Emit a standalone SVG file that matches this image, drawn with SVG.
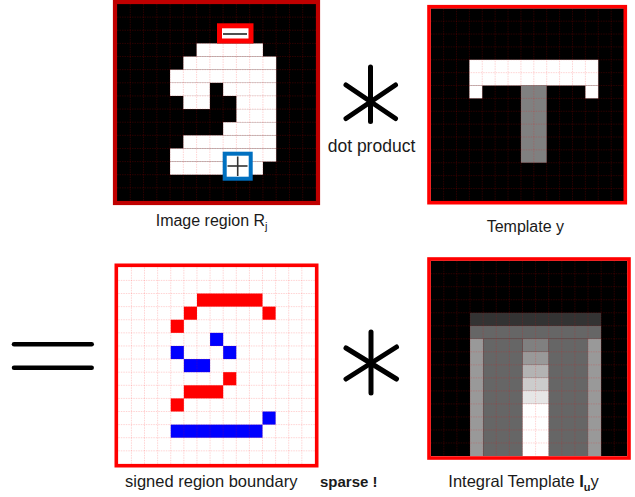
<svg xmlns="http://www.w3.org/2000/svg" width="635" height="497" viewBox="0 0 635 497">
<style>
.grid{fill:none;stroke:#ff0000;stroke-opacity:0.22;stroke-width:0.8;stroke-dasharray:1.5 1}
.frame{fill:none;stroke:#ff0000;stroke-width:3.6}
.lbl{font-family:"Liberation Sans",Arial,sans-serif;font-size:16px;fill:#1a1a1a}
.op{stroke:#000;stroke-linecap:round;fill:none}
.wh{fill:#ffffff}
.rd{fill:#ff0000}
.bl{fill:#0000ff}
</style>
<rect width="635" height="497" fill="#ffffff"/>

<g id="image-region">
<rect x="117" y="4" width="199" height="197" fill="#000"/>
<g class="wh">
<rect x="196.6" y="43.4" width="66.33" height="13.13"/>
<rect x="183.33" y="56.53" width="92.87" height="13.14"/>
<rect x="170.07" y="69.67" width="106.13" height="13.13"/>
<rect x="170.07" y="82.8" width="39.8" height="13.13"/>
<rect x="223.13" y="82.8" width="53.07" height="13.13"/>
<rect x="183.33" y="95.93" width="26.54" height="13.14"/>
<rect x="236.4" y="95.93" width="39.8" height="13.14"/>
<rect x="236.4" y="109.07" width="39.8" height="13.13"/>
<rect x="223.13" y="122.2" width="53.07" height="13.13"/>
<rect x="183.33" y="135.33" width="92.87" height="13.14"/>
<rect x="170.07" y="148.47" width="106.13" height="13.13"/>
<rect x="170.07" y="161.6" width="92.86" height="13.13"/>
</g>
<path class="grid" d="M130.27 4V201M143.53 4V201M156.8 4V201M170.07 4V201M183.33 4V201M196.6 4V201M209.87 4V201M223.13 4V201M236.4 4V201M249.67 4V201M262.93 4V201M276.2 4V201M289.47 4V201M302.73 4V201M117 17.13H316M117 30.27H316M117 43.4H316M117 56.53H316M117 69.67H316M117 82.8H316M117 95.93H316M117 109.07H316M117 122.2H316M117 135.33H316M117 148.47H316M117 161.6H316M117 174.73H316M117 187.87H316"/>
<rect x="115" y="2" width="203" height="201" fill="none" stroke="#c00000" stroke-width="4.2"/>
<rect x="219.5" y="25.8" width="31.5" height="15.2" fill="#fff" stroke="#ff0000" stroke-width="5"/>
<line x1="223" y1="34" x2="247" y2="34" stroke="#222" stroke-width="1.6"/>
<rect x="224.7" y="153.7" width="26" height="25" fill="#fff" stroke="#0070c0" stroke-width="4"/>
<line x1="237.7" y1="156.5" x2="237.7" y2="176" stroke="#333" stroke-width="1.6"/>
<line x1="227.5" y1="166" x2="247.5" y2="166" stroke="#333" stroke-width="1.6"/>
</g>

<g id="template">
<rect x="430.7" y="8.3" width="193.3" height="193" fill="#000"/>
<rect x="469.37" y="59.78" width="128.9" height="25.74" fill="#fff"/>
<rect x="469.37" y="85.52" width="12.89" height="12.87" fill="#fff"/>
<rect x="585.38" y="85.52" width="12.89" height="12.87" fill="#fff"/>
<rect x="520.93" y="85.52" width="25.78" height="77.22" fill="#808080"/>
<path class="grid" d="M443.59 8.3V201.3M456.48 8.3V201.3M469.37 8.3V201.3M482.26 8.3V201.3M495.15 8.3V201.3M508.04 8.3V201.3M520.93 8.3V201.3M533.82 8.3V201.3M546.71 8.3V201.3M559.6 8.3V201.3M572.49 8.3V201.3M585.38 8.3V201.3M598.27 8.3V201.3M611.16 8.3V201.3M430.7 21.17H624M430.7 34.04H624M430.7 46.91H624M430.7 59.78H624M430.7 72.65H624M430.7 85.52H624M430.7 98.39H624M430.7 111.26H624M430.7 124.13H624M430.7 137H624M430.7 149.87H624M430.7 162.74H624M430.7 175.61H624M430.7 188.48H624"/>
<rect class="frame" x="429" y="6.7" width="196.3" height="196"/>
</g>

<g id="signed-boundary">
<rect x="118.3" y="267.3" width="196.7" height="196.7" fill="#fff"/>
<g class="rd">
<rect x="196.96" y="293.52" width="65.55" height="13.11"/>
<rect x="183.85" y="306.63" width="13.11" height="13.11"/>
<rect x="262.51" y="306.63" width="13.11" height="13.11"/>
<rect x="170.74" y="319.74" width="13.11" height="13.11"/>
<rect x="223.18" y="372.18" width="13.11" height="13.11"/>
<rect x="183.85" y="385.29" width="39.33" height="13.11"/>
<rect x="170.74" y="398.4" width="13.11" height="13.11"/>
</g>
<g class="bl">
<rect x="210.07" y="332.85" width="13.11" height="13.11"/>
<rect x="170.74" y="345.96" width="13.11" height="13.11"/>
<rect x="223.18" y="345.96" width="13.11" height="13.11"/>
<rect x="183.85" y="359.07" width="26.22" height="13.11"/>
<rect x="262.51" y="411.51" width="13.11" height="13.11"/>
<rect x="170.74" y="424.62" width="91.77" height="13.11"/>
</g>
<path class="grid" d="M131.41 267.3V464M144.52 267.3V464M157.63 267.3V464M170.74 267.3V464M183.85 267.3V464M196.96 267.3V464M210.07 267.3V464M223.18 267.3V464M236.29 267.3V464M249.4 267.3V464M262.51 267.3V464M275.62 267.3V464M288.73 267.3V464M301.84 267.3V464M118.3 280.41H315M118.3 293.52H315M118.3 306.63H315M118.3 319.74H315M118.3 332.85H315M118.3 345.96H315M118.3 359.07H315M118.3 372.18H315M118.3 385.29H315M118.3 398.4H315M118.3 411.51H315M118.3 424.62H315M118.3 437.73H315M118.3 450.84H315"/>
<rect class="frame" x="116.3" y="265.3" width="200.4" height="200.4" stroke-width="4"/>
</g>

<g id="integral-template">
<rect x="430.7" y="260.7" width="196.6" height="195.3" fill="#000"/>
<rect x="470.03" y="312.78" width="131.1" height="13.02" fill="#333"/>
<rect x="470.03" y="325.8" width="131.1" height="13.02" fill="#666"/>
<rect x="470.03" y="338.82" width="13.11" height="117.18" fill="#999"/>
<rect x="588.02" y="338.82" width="13.11" height="117.18" fill="#999"/>
<rect x="483.14" y="338.82" width="39.33" height="117.18" fill="#666"/>
<rect x="548.69" y="338.82" width="39.33" height="117.18" fill="#666"/>
<rect x="522.47" y="338.82" width="26.22" height="13.02" fill="#808080"/>
<rect x="522.47" y="351.84" width="26.22" height="13.02" fill="#999"/>
<rect x="522.47" y="364.86" width="26.22" height="13.02" fill="#b3b3b3"/>
<rect x="522.47" y="377.88" width="26.22" height="13.02" fill="#ccc"/>
<rect x="522.47" y="390.9" width="26.22" height="13.02" fill="#e6e6e6"/>
<rect x="522.47" y="403.92" width="26.22" height="52.08" fill="#fff"/>
<path class="grid" d="M443.81 260.7V456M456.92 260.7V456M470.03 260.7V456M483.14 260.7V456M496.25 260.7V456M509.36 260.7V456M522.47 260.7V456M535.58 260.7V456M548.69 260.7V456M561.8 260.7V456M574.91 260.7V456M588.02 260.7V456M601.13 260.7V456M614.24 260.7V456M430.7 273.72H627.3M430.7 286.74H627.3M430.7 299.76H627.3M430.7 312.78H627.3M430.7 325.8H627.3M430.7 338.82H627.3M430.7 351.84H627.3M430.7 364.86H627.3M430.7 377.88H627.3M430.7 390.9H627.3M430.7 403.92H627.3M430.7 416.94H627.3M430.7 429.96H627.3M430.7 442.98H627.3"/>
<rect class="frame" x="429" y="259" width="200" height="199"/>
</g>

<g id="operators">
<g id="op-star-top" class="op" stroke-width="5">
<line x1="370.5" y1="67" x2="370.5" y2="121.5"/>
<line x1="346" y1="85" x2="395.5" y2="118.5"/>
<line x1="346" y1="118.5" x2="395.5" y2="85"/>
</g>
<g id="op-star-bottom" class="op" stroke-width="5">
<line x1="371" y1="332" x2="371" y2="393"/>
<line x1="346" y1="348" x2="396.5" y2="379"/>
<line x1="346" y1="379" x2="396.5" y2="347"/>
</g>
<g id="op-equals" class="op" stroke-width="4.5">
<line x1="14" y1="344.3" x2="91.7" y2="344.3"/>
<line x1="14" y1="367.7" x2="91.7" y2="367.7"/>
</g>
</g>

<g id="connectors"></g>

<g id="labels">
<text class="lbl" x="155.7" y="226">Image region R<tspan font-size="11" dy="4">j</tspan></text>
<text class="lbl" x="486.7" y="232.3">Template y</text>
<text class="lbl" x="327.7" y="151.7" style="font-size:17.5px">dot product</text>
<text class="lbl" x="125" y="487.3" style="font-size:16.5px">signed region boundary</text>
<text class="lbl" x="320" y="487.3" style="font-size:15px;font-weight:bold">sparse !</text>
<text class="lbl" x="448.3" y="487.3" style="font-size:16.5px">Integral Template <tspan font-weight="bold">I</tspan><tspan font-weight="bold" font-size="11" dy="4">u</tspan><tspan dy="-4">y</tspan></text>
</g>
</svg>
